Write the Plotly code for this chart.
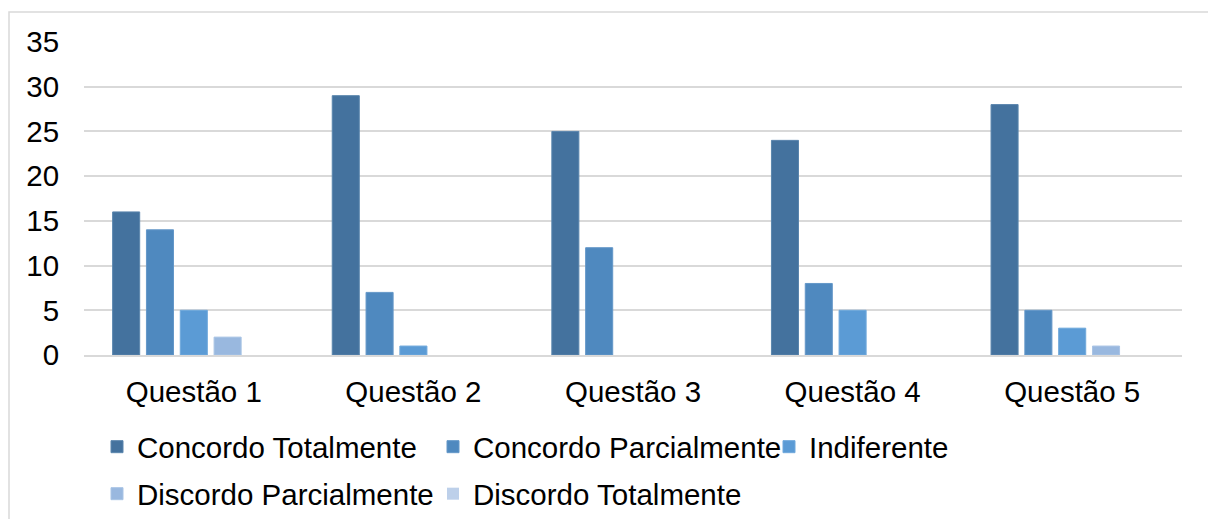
import plotly.graph_objects as go

categories = ["Questão 1", "Questão 2", "Questão 3", "Questão 4", "Questão 5"]
series_names = [
    "Concordo Totalmente",
    "Concordo Parcialmente",
    "Indiferente",
    "Discordo Parcialmente",
    "Discordo Totalmente",
]
concordo_totalmente = [16, 29, 25, 24, 28]
concordo_parcialmente = [14, 7, 12, 8, 5]
indiferente = [5, 1, 0, 5, 3]
discordo_parcialmente = [2, 0, 0, 0, 1]
discordo_totalmente = [0, 0, 0, 0, 0]

series_values = [
    concordo_totalmente,
    concordo_parcialmente,
    indiferente,
    discordo_parcialmente,
    discordo_totalmente,
]
colors = ["#44729E", "#4F89BF", "#5B9BD5", "#99B8DF", "#BDD0EA"]
edge_colors = ["#5A85AD", "#6497C8", "#70A9DC", "#A9C4E5", "#C9D9EE"]
# first three series on the first legend row, the rest on the second
legend_rows = ["legend", "legend", "legend", "legend2", "legend2"]

FONT = "Liberation Sans, Arial, sans-serif"
FS = 29.5

fig = go.Figure()
for name, vals, c, ec, lg in zip(series_names, series_values, colors, edge_colors, legend_rows):
    fig.add_trace(
        go.Bar(
            x=categories,
            y=vals,
            name=name,
            legend=lg,
            marker=dict(
                color=c,
                line=dict(color=ec, width=[1 if v > 0 else 0 for v in vals]),
            ),
        )
    )

W, H = 1208, 519
L, R, T, B = 84, 26, 42, 164
pw, ph = W - L - R, H - T - B

# outer chart frame (light gray), anchored in pixels relative to the plot area
fx0 = (9 - L) / pw
fx1 = (W + 5 - L) / pw
fy1 = (H - B - 12) / ph
fy0 = (H - B - (H + 5)) / ph

legend_common = dict(
    orientation="h",
    xanchor="left",
    yanchor="middle",
    entrywidth=291,
    entrywidthmode="pixels",
    font=dict(family=FONT, size=FS, color="#000000"),
    itemwidth=30,
    bgcolor="rgba(0,0,0,0)",
)

fig.update_layout(
    width=W,
    height=H,
    margin=dict(l=L, r=R, t=T, b=B, pad=0, autoexpand=False),
    paper_bgcolor="white",
    plot_bgcolor="white",
    barmode="group",
    bargap=0.23,
    bargroupgap=0.2,
    font=dict(family=FONT, size=FS, color="#000000"),
    showlegend=True,
    legend=dict(x=(97 - L) / pw, y=(H - B - 447) / ph, **legend_common),
    legend2=dict(x=(97 - L) / pw, y=(H - B - 494) / ph, **legend_common),
    shapes=[
        dict(
            type="rect",
            xref="paper",
            yref="paper",
            x0=fx0,
            x1=fx1,
            y0=fy0,
            y1=fy1,
            line=dict(color="#D9D9D9", width=1.5),
            fillcolor="rgba(0,0,0,0)",
            layer="below",
        )
    ],
)

fig.update_xaxes(
    showgrid=False,
    showline=True,
    linecolor="#D9D9D9",
    linewidth=1.5,
    ticks="outside",
    ticklen=10,
    tickcolor="rgba(0,0,0,0)",
    tickfont=dict(family=FONT, size=FS, color="#000000"),
)
fig.update_yaxes(
    range=[0, 35],
    tickvals=[0, 5, 10, 15, 20, 25, 30, 35],
    showgrid=True,
    gridcolor="#D9D9D9",
    gridwidth=1.5,
    zeroline=False,
    showline=False,
    ticks="outside",
    ticklen=18,
    tickcolor="rgba(0,0,0,0)",
    tickfont=dict(family=FONT, size=FS, color="#000000"),
)

fig.write_html("out.html")
